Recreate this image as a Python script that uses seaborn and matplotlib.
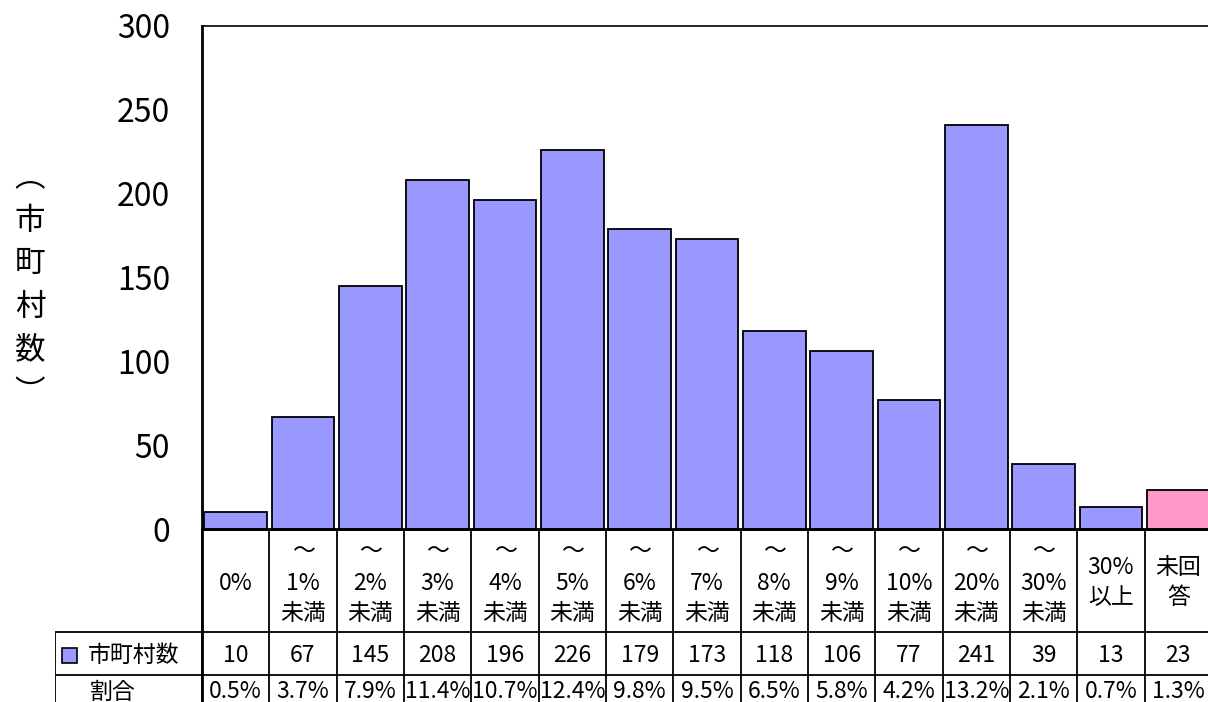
import matplotlib
matplotlib.use("Agg")
import matplotlib.pyplot as plt
import seaborn as sns
import pandas as pd
from matplotlib.patches import Rectangle

# ---- data ----
categories = ["0%", "～1%未満", "～2%未満", "～3%未満", "～4%未満", "～5%未満",
              "～6%未満", "～7%未満", "～8%未満", "～9%未満", "～10%未満",
              "～20%未満", "～30%未満", "30%以上", "未回答"]
header_lines = [["0%"], ["～", "1%", "未満"], ["～", "2%", "未満"], ["～", "3%", "未満"],
                ["～", "4%", "未満"], ["～", "5%", "未満"], ["～", "6%", "未満"],
                ["～", "7%", "未満"], ["～", "8%", "未満"], ["～", "9%", "未満"],
                ["～", "10%", "未満"], ["～", "20%", "未満"], ["～", "30%", "未満"],
                ["30%", "以上"], ["未回", "答"]]
counts = [10, 67, 145, 208, 196, 226, 179, 173, 118, 106, 77, 241, 39, 13, 23]
shares = ["0.5%", "3.7%", "7.9%", "11.4%", "10.7%", "12.4%", "9.8%", "9.5%",
          "6.5%", "5.8%", "4.2%", "13.2%", "2.1%", "0.7%", "1.3%"]
series_name = "市町村数"
share_name = "割合"
y_label_chars = ["︵", "市", "町", "村", "数", "︶"]
y_ticks = [0, 50, 100, 150, 200, 250, 300]

BLUE = "#9999FF"
PINK = "#FF99CC"
colors = [BLUE] * (len(categories) - 1) + [PINK]

sns.set_theme(style="white")
plt.rcParams["font.family"] = ["Noto Sans CJK JP", "DejaVu Sans"]

W, H = 1208, 702
fig = plt.figure(figsize=(W / 100, H / 100), dpi=100)
fig.patch.set_facecolor("white")

# plot area geometry (pixels)
ax_left, ax_top, ax_bottom = 202, 26, 529
slot = 67.33
n = len(categories)
ax_right = ax_left + slot * n

ax = fig.add_axes([ax_left / W, (H - ax_bottom) / H,
                   (ax_right - ax_left) / W, (ax_bottom - ax_top) / H])

df = pd.DataFrame({"cat": categories, "n": counts})
sns.barplot(data=df, x="cat", y="n", hue="cat", palette=colors, legend=False,
            width=0.93, edgecolor="black", linewidth=1.3, saturation=1, ax=ax)

ax.set_xlim(-0.5, n - 0.5)
ax.set_ylim(0, 300)
ax.set_yticks(y_ticks)
ax.set_yticklabels([str(t) for t in y_ticks], fontsize=23)
ax.tick_params(axis="y", direction="in", length=10, width=1, pad=23, colors="black",
               labelcolor="black")
ax.set_xticks([])
ax.set_xlabel("")
ax.set_ylabel("")
for s in ["left", "bottom"]:
    ax.spines[s].set_linewidth(2)
    ax.spines[s].set_color("black")
ax.spines["top"].set_linewidth(1.2)
ax.spines["top"].set_color("black")
ax.spines["right"].set_visible(False)

# vertical y-axis title, characters stacked upright
for k, ch in enumerate(y_label_chars):
    fig.text(30 / W, 1 - (178 + k * 43) / H, ch, fontsize=22,
             ha="center", va="center", color="black")

# ---- data table under the plot ----
tab_left = 55
tab_bottom = 722
tax = fig.add_axes([tab_left / W, (H - tab_bottom) / H,
                    (ax_right - tab_left) / W, (tab_bottom - ax_bottom) / H])
x0 = -0.5 - (ax_left - tab_left) / slot
tax.set_xlim(x0, n - 0.5)
tax.set_ylim(tab_bottom, ax_bottom)
tax.axis("off")

row1_top, row2_top = 632, 675
lc = "black"
tax.hlines([row1_top, row2_top], x0, n - 0.5, colors=lc, linewidth=1.3)
tax.hlines([ax_bottom], -0.5, n - 0.5, colors=lc, linewidth=2)
tax.vlines([i - 0.5 for i in range(n + 1)], ax_bottom, tab_bottom, colors=lc, linewidth=1.3)
tax.vlines([-0.5], ax_bottom, tab_bottom, colors=lc, linewidth=2)
tax.vlines([x0], row1_top, tab_bottom, colors=lc, linewidth=1.3)

fs = 16.5
for i, lines in enumerate(header_lines):
    if len(lines) == 3:
        ys = [551, 583, 613]
    elif len(lines) == 2:
        ys = [567, 598]
    else:
        ys = [583]
    for txt, yy in zip(lines, ys):
        tax.text(i, yy, txt, fontsize=fs, ha="center", va="center", color="black")

for i, (c, s) in enumerate(zip(counts, shares)):
    tax.text(i, 655, str(c), fontsize=fs, ha="center", va="center", color="black")
    tax.text(i, 692, s, fontsize=fs, ha="center", va="center", color="black")

# legend key and row headers
px = 1 / slot
tax.add_patch(Rectangle((x0 + 7 * px, 663), 15 * px, -15, facecolor=BLUE,
                        edgecolor="black", linewidth=1.2))
tax.text(x0 + 33 * px, 655, series_name, fontsize=fs, ha="left", va="center", color="black")
tax.text(x0 + 35 * px, 692, share_name, fontsize=fs, ha="left", va="center", color="black")

fig.savefig("out.png", dpi=100, facecolor="white")
